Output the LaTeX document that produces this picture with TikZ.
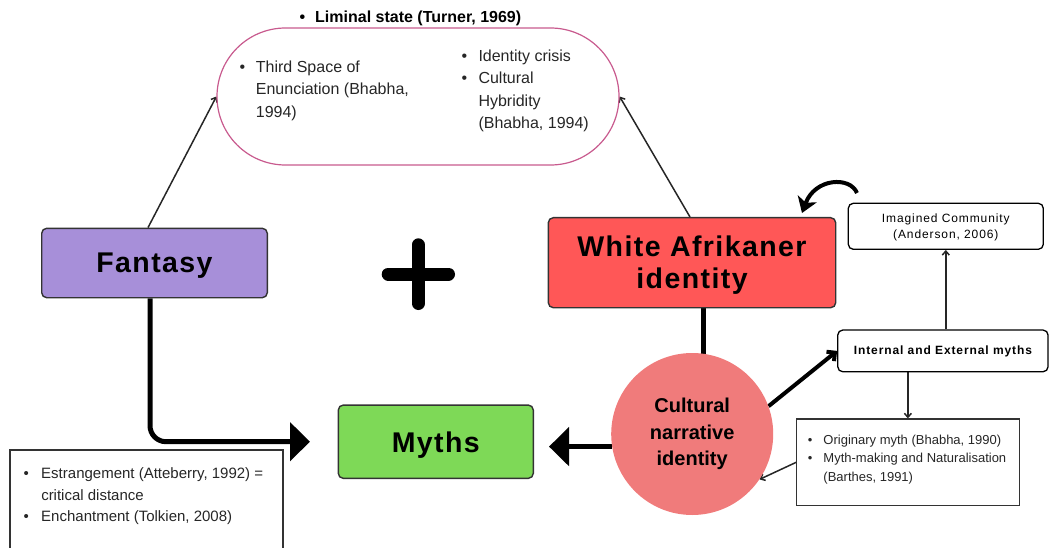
\documentclass[tikz,border=0pt]{standalone}
\usepackage{fontspec}
\setmainfont{Liberation Sans}
\newfontfamily\headfont[LetterSpace=5]{Liberation Sans}
\newfontfamily\spacedfont[LetterSpace=7.5]{Liberation Sans}
\usetikzlibrary{arrows.meta,shapes.misc,backgrounds,calc}

\definecolor{fantasyfill}{HTML}{A78FD9}
\definecolor{afrifill}{HTML}{FF5757}
\definecolor{mythfill}{HTML}{7ED957}
\definecolor{narrfill}{HTML}{F07B7B}
\definecolor{ovalline}{HTML}{C85A8E}
\definecolor{inkgray}{HTML}{262626}
\definecolor{edgegray}{HTML}{333333}

% bullet list: first column the bullet, second the (manually broken) text
\newcommand{\blist}[2]{\begin{tabular}[t]{@{}l@{\hspace{#1}}l@{}}#2\end{tabular}}

\tikzset{
  conceptbox/.style={draw=edgegray, line width=1.4pt, rounded corners=5pt,
    inner sep=0pt, align=center, font=\headfont\bfseries\fontsize{28.5}{32}\selectfont},
  notebox/.style={draw=black, line width=1.3pt, rounded corners=5pt,
    fill=white, inner sep=0pt, align=center},
  listbox/.style={draw=edgegray, line width=1.1pt, inner sep=0pt},
  listtext/.style={anchor=base west, inner sep=0pt, text=inkgray},
  thinarrow/.style={draw=black!85, line width=1.5pt,
    -{Straight Barb[length=4pt,width=7pt]}},
  heavyarrow/.style={line width=5pt, -{Triangle[length=20pt,width=38pt]}},
}

\begin{document}
\begin{tikzpicture}[x=1pt,y=-1pt]
\useasboundingbox (0,0) rectangle (1049,548);

% liminal space
\node[rounded rectangle, draw=ovalline, line width=1.2pt, minimum width=402pt,
      minimum height=137pt, inner sep=0pt] (liminal) at (418,96.5) {};
\node[listtext, font=\bfseries\fontsize{16}{20}\selectfont, text=black] (liminalhead)
  at (299.5,23) {\blist{9.9pt}{\textbullet & Liminal state (Turner, 1969)}};
\node[listtext, font=\fontsize{16}{22.5}\selectfont] (thirdspace) at (239.5,72.4)
  {\blist{10.6pt}{\textbullet & Third Space of\\ & Enunciation (Bhabha,\\ & 1994)}};
\node[listtext, font=\fontsize{16}{22.2}\selectfont] (hybridity) at (461.5,61.7)
  {\blist{11.2pt}{\textbullet & Identity crisis\\ \textbullet & Cultural\\ & Hybridity\\ & (Bhabha, 1994)}};

% main concepts
\node[conceptbox, fill=fantasyfill, minimum width=225.6pt, minimum height=69.4pt,
      text depth=0pt] (fantasy) at (154.5,263) {Fantasy};
\node[conceptbox, fill=afrifill, minimum width=287.4pt, minimum height=90pt]
  (wai) at (692,262.7) {\rule{0pt}{25pt}White Afrikaner\\identity};
\node[conceptbox, fill=mythfill, minimum width=195pt, minimum height=73.3pt,
      text depth=0pt] (myths) at (435.8,441.7) {Myths};
\node[circle, fill=narrfill, minimum size=162pt, inner sep=0pt, align=center,
      font=\bfseries\fontsize{20}{26.7}\selectfont] (cni) at (692.2,434)
  {Cultural\\narrative\\identity};

% plus sign
\draw[line width=13pt, line cap=round] (388.2,274) -- (448.5,274);
\draw[line width=13pt, line cap=round] (418.3,244.8) -- (418.3,303.5);

% notes on the right
\node[notebox, minimum width=195pt, minimum height=46pt,
      font=\spacedfont\fontsize{12}{16}\selectfont] (imagined) at (945.8,226.3)
  {\rule{0pt}{11.5pt}Imagined Community\\(Anderson, 2006)};
\node[notebox, minimum width=210.3pt, minimum height=41.7pt,
      font=\spacedfont\bfseries\fontsize{12}{14}\selectfont] (internal) at (942.9,350.9)
  {Internal and External myths};
\node[listbox, minimum width=222.3pt, minimum height=86.7pt] (originary) at (907.9,462.3) {};
\node[listtext, font=\fontsize{13}{18.5}\selectfont] (originarytext) at (807.7,444)
  {\blist{11pt}{\textbullet & Originary myth (Bhabha, 1990)\\ \textbullet & Myth-making and Naturalisation\\ & (Barthes, 1991)}};

% note on the left
\node[listbox, minimum width=273pt, minimum height=104pt] (estr) at (146.5,502) {};
\node[listtext, font=\fontsize{15}{21.3}\selectfont] (estrtext) at (23.4,478.7)
  {\blist{12.4pt}{\textbullet & Estrangement (Atteberry, 1992) =\\ & critical distance\\ \textbullet & Enchantment (Tolkien, 2008)}};

\coordinate (loopstart) at (857,193);
\coordinate (looptip) at (802,213);

\begin{scope}[on background layer]
  \draw[thinarrow] ([xshift=-6.5pt]fantasy.north) -- (liminal.west);
  \draw[thinarrow] ([xshift=-2pt]wai.north) -- (liminal.east);
  \draw[heavyarrow, rounded corners=16pt, shorten >=27.6pt]
    ([xshift=-4.5pt]fantasy.south) |- (myths.west);
  \draw[heavyarrow, shorten >=15pt] ([yshift=1.5pt]cni.190) -- ([yshift=1.5pt]cni.190 -| myths.east);
  \draw[line width=5pt] ([xshift=11.3pt]wai.south) -- ([xshift=11.3pt]wai.south |- cni.center);
  \draw[line width=4pt, -{Straight Barb[length=6pt,width=12pt]}] (cni.20) -- (internal.west);
  \draw[thinarrow] (internal.north -| imagined.south) -- (imagined.south);
  \draw[thinarrow] (internal.south -| originary.north) -- (originary.north);
  \draw[thinarrow] (originary.west) -- (cni.-34.5);
  \draw[line width=4pt, -{Stealth[length=15pt,width=20pt,inset=4pt]}]
    (loopstart) .. controls (850,176) and (815,178) .. (looptip);
\end{scope}
\end{tikzpicture}
\end{document}
